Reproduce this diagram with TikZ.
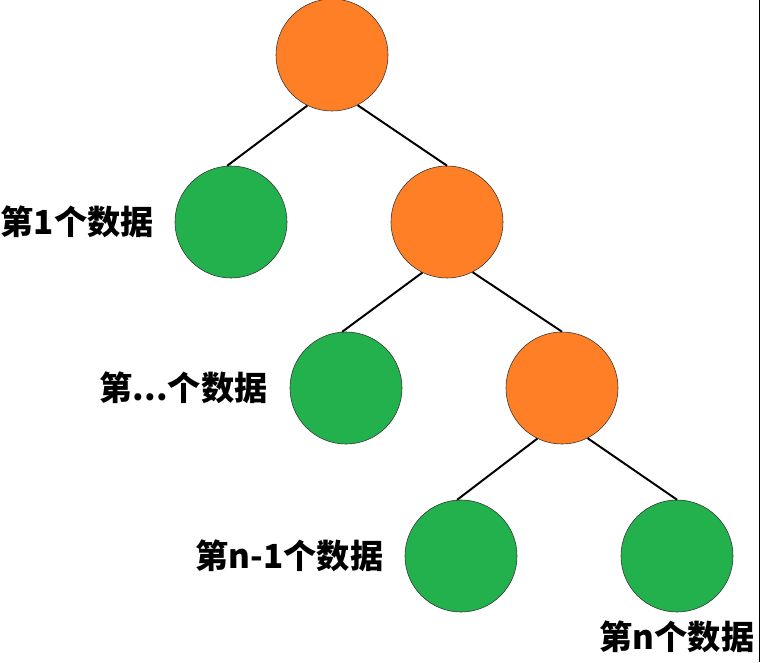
\documentclass[tikz,border=0pt]{standalone}
\usepackage{fontspec}
\newfontfamily\cjk{Noto Sans CJK SC}
\usetikzlibrary{positioning}
\definecolor{knot}{RGB}{255,127,39}
\definecolor{leaf}{RGB}{34,177,76}
\tikzset{
	inner/.style={circle,draw=black!80,line width=.4pt,fill=knot,minimum size=2.8cm,inner sep=0pt},
	data/.style={circle,draw=black!80,line width=.4pt,fill=leaf,minimum size=2.8cm,inner sep=0pt},
	tag/.style={inner sep=0pt,font=\cjk\bfseries\fontsize{23.6}{26}\selectfont},
	edge/.style={line width=1.4pt}
}

\begin{document}
\begin{tikzpicture}[x=0.025cm,y=-0.025cm]
			\useasboundingbox (0,0) rectangle (760,662);
			\fill[white] (0,0) rectangle (760,662);
			\draw[line width=.6pt] (759,0) -- (759,662);
			% inner nodes
			\node[inner] (r1) at (332,55) {};
			\node[inner] (r2) at (447,222) {};
			\node[inner] (r3) at (562,388) {};
			% data nodes
			\node[data] (d1) at (231,222) {};
			\node[data] (d2) at (346,388) {};
			\node[data] (d3) at (461,556) {};
			\node[data] (d4) at (677,556) {};
			% labels
			\node[tag,left=0.52cm of d1] (t1) {第1个数据};
			\node[tag,left=0.55cm of d2] (t2) {第...个数据};
			\node[tag,left=0.53cm of d3] (t3) {第n-1个数据};
			\node[tag,below=0.2cm of d4] (t4) {第n个数据};
			% edges
			\draw[edge] (r1.244) -- (d1.94);
			\draw[edge] (r1.297) -- (r2.north);
			\draw[edge] (r2.244) -- (d2.94);
			\draw[edge] (r2.297) -- (r3.north);
			\draw[edge] (r3.244) -- (d3.94);
			\draw[edge] (r3.297) -- (d4.north);
		\end{tikzpicture}
\end{document}
